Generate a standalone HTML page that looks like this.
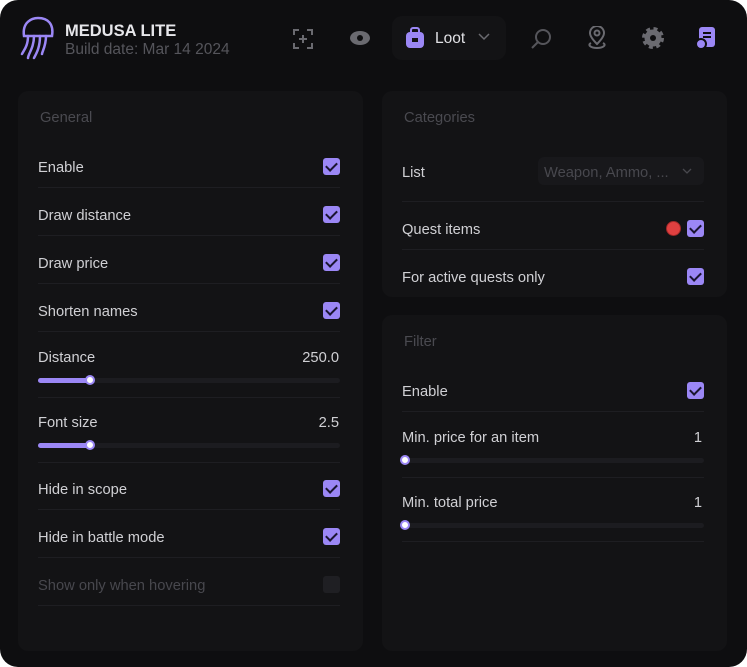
<!DOCTYPE html>
<html><head><style>
*{margin:0;padding:0;box-sizing:border-box}
body{width:747px;height:667px;background:#fff;font-family:"Liberation Sans",sans-serif;overflow:hidden}
#w{position:absolute;left:0;top:0;width:747px;height:667px;background:#0e0e10;border-radius:18px;overflow:hidden}
.p{position:absolute;background:#131315;border-radius:10px}
.t{position:absolute;color:#d0d0d4;font-size:14.7px;line-height:16px;white-space:nowrap}
.h{color:#4a4a50}
.d{color:#48484e}
.cb{position:absolute;width:17px;height:17px;background:#9b87f5;border-radius:3px}
.cb:after{content:"";position:absolute;left:5px;top:2px;width:5px;height:9px;border:solid #1a1530;border-width:0 2px 2px 0;transform:rotate(45deg)}
.cb.off{background:#1f1f23}.cb.off:after{display:none}
.sep{position:absolute;height:1px;background:#1e1e22}
.tr{position:absolute;height:5px;background:#1c1c20;border-radius:3px}
.fl{position:absolute;height:5px;background:#9b87f5;border-radius:3px}
.th{position:absolute;width:10px;height:10px;border-radius:50%;background:#fff;border:2px solid #9b87f5}
.r{text-align:right}
</style></head><body><div id="w">
<svg style="position:absolute;left:18px;top:16px" width="40" height="44" viewBox="0 0 40 44" fill="none" stroke="#9b87f5" stroke-width="2.5" stroke-linecap="round"><path d="M6 20 C4 6 14 2 20 2 C30 2 36 8 34 20 Z"/><path d="M10 20 C10 30 6 34 4 38"/><path d="M16 20 C16 32 10 38 10 42"/><path d="M22 20 C22 32 18 38 16 42"/><path d="M28 20 C28 30 24 36 24 38"/></svg>
<div class="t" style="left:65px;top:23px;font-weight:bold;font-size:16.5px;color:#e6e6ea">MEDUSA LITE</div>
<div class="t" style="left:65px;top:42px;color:#55555b;font-size:15.5px">Build date: Mar 14 2024</div>
<svg style="position:absolute;left:292px;top:28px" width="22" height="22" fill="none" stroke="#6a6a70" stroke-width="2"><path d="M2 7V2h5M15 2h5v5M20 15v5h-5M7 20H2v-5M11 7v8M7 11h8"/></svg>
<svg style="position:absolute;left:349px;top:30px" width="22" height="16"><ellipse cx="11" cy="8" rx="10" ry="7" fill="#6a6a70"/><circle cx="11" cy="8" r="3" fill="#0e0e10"/></svg>
<div style="position:absolute;left:392px;top:16px;width:114px;height:44px;background:#131315;border-radius:10px"></div>
<svg style="position:absolute;left:405px;top:27px" width="20" height="22"><rect x="1" y="5" width="18" height="16" rx="4" fill="#9b87f5"/><rect x="6" y="1" width="8" height="6" rx="2" fill="none" stroke="#9b87f5" stroke-width="2"/><rect x="7" y="11" width="6" height="4" fill="#131315"/></svg>
<div class="t" style="left:435px;top:31px;font-size:15.5px;color:#e0e0e4">Loot</div>
<svg style="position:absolute;left:478px;top:33px" width="12" height="8" fill="none" stroke="#6a6a70" stroke-width="1.5"><path d="M1 1l5 5 5-5"/></svg>
<svg style="position:absolute;left:530px;top:28px" width="22" height="22" fill="none" stroke="#55555b" stroke-width="2"><circle cx="13" cy="9" r="7"/><path d="M8 14L2 20"/></svg>
<svg style="position:absolute;left:586px;top:26px" width="22" height="24" fill="none" stroke="#6a6a70" stroke-width="2"><path d="M11 18C5 12 4 9 4 7a7 7 0 0114 0c0 2-1 5-7 11z"/><circle cx="11" cy="7" r="2.5"/><path d="M5 17c-4 2 0 5 6 5s10-3 6-5"/></svg>
<svg style="position:absolute;left:642px;top:27px" width="22" height="22"><circle cx="11" cy="11" r="8.5" fill="#6a6a70"/><circle cx="11" cy="11" r="9.5" fill="none" stroke="#6a6a70" stroke-width="3" stroke-dasharray="4 3.5"/><circle cx="11" cy="11" r="3" fill="#0e0e10"/></svg>
<svg style="position:absolute;left:695px;top:26px" width="22" height="24"><rect x="4" y="1" width="16" height="20" rx="3" fill="#9b87f5"/><rect x="8" y="6" width="8" height="2" fill="#0e0e10"/><rect x="8" y="10" width="8" height="2" fill="#0e0e10"/><circle cx="6" cy="18" r="5" fill="#9b87f5" stroke="#0e0e10" stroke-width="2"/></svg>

<div class="p" style="left:18px;top:91px;width:345px;height:560px"></div>
<div class="p" style="left:382px;top:91px;width:345px;height:206px"></div>
<div class="p" style="left:382px;top:315px;width:345px;height:336px"></div>

<div class="t h" style="left:40px;top:110px">General</div>
<div class="t" style="left:38px;top:160px">Enable</div><div class="cb" style="left:323px;top:158px"></div><div class="sep" style="left:38px;top:187px;width:302px"></div>
<div class="t" style="left:38px;top:208px">Draw distance</div><div class="cb" style="left:323px;top:206px"></div><div class="sep" style="left:38px;top:235px;width:302px"></div>
<div class="t" style="left:38px;top:256px">Draw price</div><div class="cb" style="left:323px;top:254px"></div><div class="sep" style="left:38px;top:283px;width:302px"></div>
<div class="t" style="left:38px;top:304px">Shorten names</div><div class="cb" style="left:323px;top:302px"></div><div class="sep" style="left:38px;top:331px;width:302px"></div>
<div class="t" style="left:38px;top:350px">Distance</div><div class="t r" style="left:280px;width:59px;top:350px">250.0</div>
<div class="tr" style="left:38px;top:378px;width:302px"></div><div class="fl" style="left:38px;top:378px;width:52px"></div><div class="th" style="left:85px;top:375px"></div>
<div class="sep" style="left:38px;top:397px;width:302px"></div>
<div class="t" style="left:38px;top:415px">Font size</div><div class="t r" style="left:280px;width:59px;top:415px">2.5</div>
<div class="tr" style="left:38px;top:443px;width:302px"></div><div class="fl" style="left:38px;top:443px;width:52px"></div><div class="th" style="left:85px;top:440px"></div>
<div class="sep" style="left:38px;top:462px;width:302px"></div>
<div class="t" style="left:38px;top:482px">Hide in scope</div><div class="cb" style="left:323px;top:480px"></div><div class="sep" style="left:38px;top:509px;width:302px"></div>
<div class="t" style="left:38px;top:530px">Hide in battle mode</div><div class="cb" style="left:323px;top:528px"></div><div class="sep" style="left:38px;top:557px;width:302px"></div>
<div class="t d" style="left:38px;top:578px">Show only when hovering</div><div class="cb off" style="left:323px;top:576px"></div><div class="sep" style="left:38px;top:605px;width:302px"></div>

<div class="t h" style="left:404px;top:110px">Categories</div>
<div class="t" style="left:402px;top:165px">List</div>
<div style="position:absolute;left:538px;top:157px;width:166px;height:28px;background:#18181b;border-radius:6px"></div>
<div class="t d" style="left:544px;top:165px">Weapon, Ammo, ...</div>
<svg style="position:absolute;left:682px;top:168px" width="10" height="6" fill="none" stroke="#48484e" stroke-width="1.3"><path d="M1 1l4 4 4-4"/></svg>
<div class="sep" style="left:402px;top:201px;width:302px"></div>
<div class="t" style="left:402px;top:222px">Quest items</div>
<div style="position:absolute;left:666px;top:221px;width:15px;height:15px;border-radius:50%;background:#e04040;border:1px solid #a02828"></div>
<div class="cb" style="left:687px;top:220px"></div>
<div class="sep" style="left:402px;top:249px;width:302px"></div>
<div class="t" style="left:402px;top:270px">For active quests only</div><div class="cb" style="left:687px;top:268px"></div>

<div class="t h" style="left:404px;top:334px">Filter</div>
<div class="t" style="left:402px;top:384px">Enable</div><div class="cb" style="left:687px;top:382px"></div><div class="sep" style="left:402px;top:411px;width:302px"></div>
<div class="t" style="left:402px;top:430px">Min. price for an item</div><div class="t r" style="left:644px;width:58px;top:430px">1</div>
<div class="tr" style="left:402px;top:458px;width:302px"></div><div class="th" style="left:400px;top:455px"></div>
<div class="sep" style="left:402px;top:477px;width:302px"></div>
<div class="t" style="left:402px;top:495px">Min. total price</div><div class="t r" style="left:644px;width:58px;top:495px">1</div>
<div class="tr" style="left:402px;top:523px;width:302px"></div><div class="th" style="left:400px;top:520px"></div>
<div class="sep" style="left:402px;top:541px;width:302px"></div>
</div></body></html>
